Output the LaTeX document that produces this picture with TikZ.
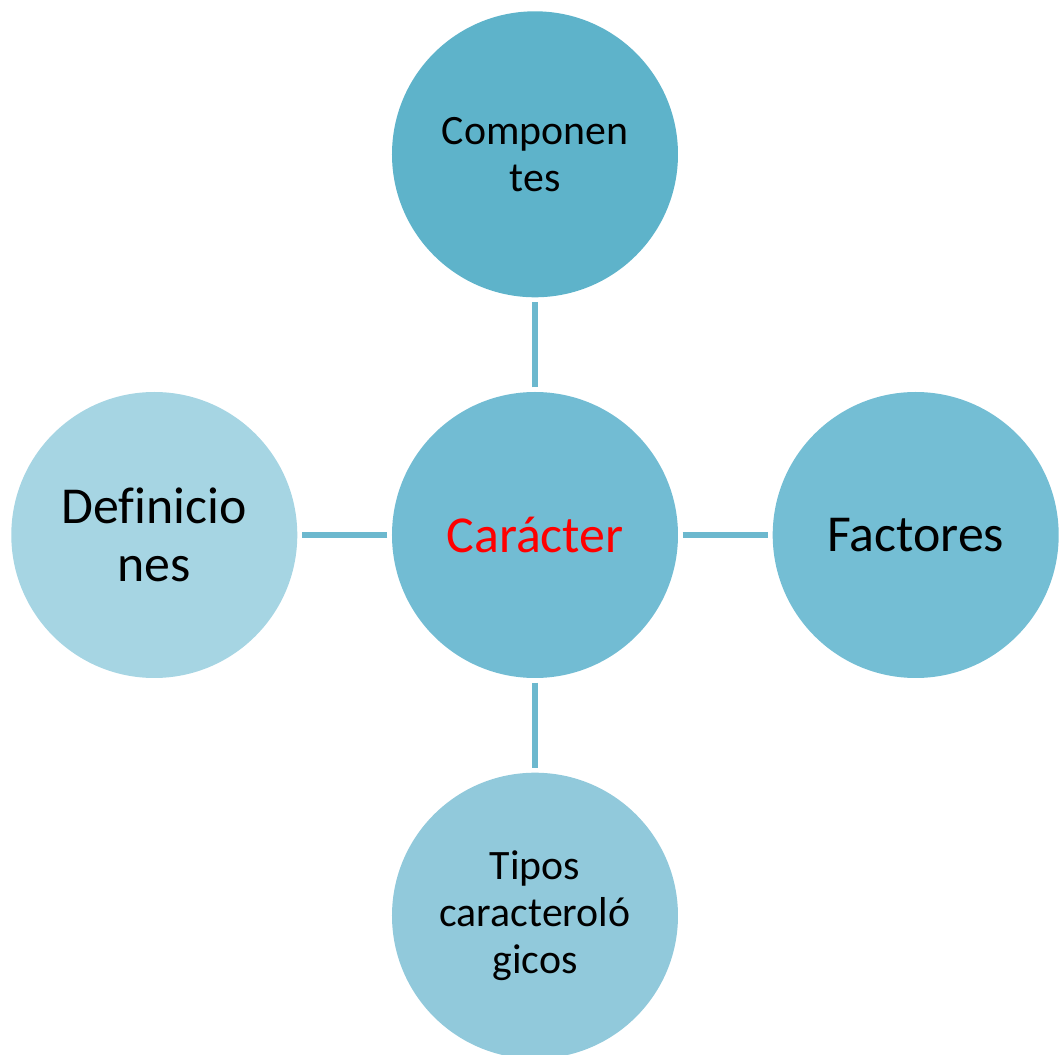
\documentclass[tikz,border=0pt]{standalone}
\usepackage{fontspec}
\setmainfont{Carlito}[Ligatures=CommonOff]
\usetikzlibrary{positioning}
\definecolor{TopClr}{RGB}{94,179,202}
\definecolor{MidClr}{RGB}{114,188,211}
\definecolor{LeftClr}{RGB}{166,213,227}
\definecolor{RightClr}{RGB}{116,190,212}
\definecolor{BotClr}{RGB}{145,201,219}
\definecolor{LinkClr}{RGB}{108,184,206}

\begin{document}
\begin{tikzpicture}[
  bubble/.style={circle,minimum size=5.72cm,inner sep=0pt,align=center},
  small/.style={font=\fontsize{23.8}{26.6}\selectfont},
  big/.style={font=\fontsize{29.5}{33.4}\selectfont},
  link/.style={draw=LinkClr,line width=3pt,shorten <=2.5pt,shorten >=2.5pt}]
\useasboundingbox (-10.7,-10.4) rectangle (10.48,10.7);

\node[bubble,big,fill=MidClr,text=red] (char) at (0,0) {Carácter};
\node[bubble,small,fill=TopClr,above=1.88cm of char] (comp) {Componen\\tes};
\node[bubble,big,fill=LeftClr,left=1.88cm of char] (defs) {Definicio\\nes};
\node[bubble,big,fill=RightClr,right=1.88cm of char] (fact) {Factores};
\node[bubble,small,fill=BotClr,below=1.88cm of char] (tipos) {Tipos\\caracteroló\\gicos};

\draw[link] (char) -- (comp);
\draw[link] (char) -- (defs);
\draw[link] (char) -- (fact);
\draw[link] (char) -- (tipos);

\end{tikzpicture}
\end{document}
